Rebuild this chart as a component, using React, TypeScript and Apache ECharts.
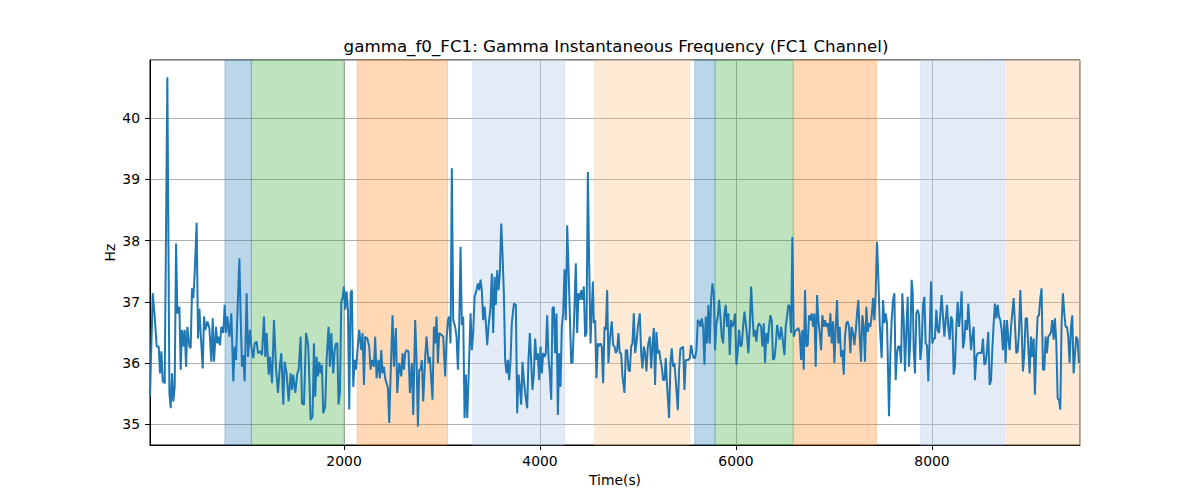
import React, { useEffect, useRef } from "react";
import * as echarts from "echarts";

// ---- data (time in s, instantaneous frequency in Hz) ----
const TRACE_A: [number, number][] = [
  [20, 35.45], [48, 37.14], [68, 36.76], [88, 36.27], [109, 36.27], [122, 35.83], [136, 36.19], [150, 35.70],
  [170, 35.67], [197, 40.67], [218, 35.51], [231, 35.26], [245, 35.83], [258, 35.37], [272, 35.61], [286, 37.95],
  [299, 36.81], [320, 36.92], [333, 35.89], [347, 36.54], [360, 36.27], [374, 36.54], [388, 35.94], [401, 36.59],
  [422, 36.27], [435, 36.24], [449, 37.22], [462, 37.06], [476, 37.46], [496, 38.29], [510, 36.40], [524, 36.89],
  [537, 36.49], [558, 35.91], [571, 36.76], [585, 36.54], [605, 36.68], [626, 36.57], [646, 36.02], [660, 36.73],
  [673, 36.02], [694, 36.59], [707, 36.32], [721, 36.43], [734, 36.29], [748, 36.59], [768, 36.49], [782, 36.95],
  [796, 36.49], [809, 36.76], [830, 36.43], [850, 36.81], [870, 35.70], [884, 36.27], [898, 36.05], [911, 36.76],
  [932, 37.71], [945, 36.76], [959, 35.94], [972, 36.13], [986, 35.70], [1006, 37.14], [1020, 36.10], [1040, 36.54],
  [1054, 36.27], [1074, 36.08], [1088, 36.32], [1108, 36.35], [1122, 36.16], [1142, 36.19], [1163, 36.13], [1183, 36.76],
  [1197, 36.10], [1210, 36.49], [1231, 35.81], [1244, 36.10], [1265, 35.67], [1285, 36.70], [1306, 35.91], [1326, 35.51],
  [1346, 35.97], [1360, 36.16], [1380, 35.32], [1394, 36.02], [1414, 35.83], [1435, 35.37], [1455, 35.83], [1469, 35.56],
  [1482, 35.81], [1503, 35.51], [1523, 35.83], [1537, 35.89], [1557, 36.43], [1571, 35.34], [1591, 35.32], [1612, 36.49],
  [1632, 36.32],
];

const TRACE_B: [number, number][] = [
  [1638, 36.16], [1659, 35.07], [1679, 35.13], [1693, 36.32], [1706, 35.45], [1720, 36.10], [1734, 35.78], [1747, 36.02],
  [1761, 35.83], [1774, 35.97], [1788, 35.18], [1808, 35.29], [1822, 36.05], [1842, 36.59], [1856, 35.94], [1870, 36.49],
  [1890, 35.83], [1904, 36.21], [1917, 36.32], [1931, 36.32], [1944, 35.32], [1958, 35.51], [1972, 37.00], [1985, 37.06],
  [1999, 37.25], [2012, 36.87], [2026, 37.17], [2040, 36.87], [2053, 35.24], [2067, 37.14], [2080, 37.19], [2094, 35.61],
  [2108, 36.05], [2121, 35.89], [2135, 36.16], [2155, 36.54], [2176, 36.21], [2189, 36.49], [2203, 35.64], [2216, 36.43],
  [2237, 36.40], [2257, 36.27], [2271, 35.89], [2284, 36.05], [2305, 35.94], [2318, 36.43], [2332, 35.75], [2352, 36.05],
  [2366, 35.75], [2380, 36.21], [2393, 35.83], [2407, 35.94], [2420, 35.75], [2434, 35.67], [2448, 35.59], [2461, 35.02],
  [2475, 35.78], [2495, 36.78], [2509, 35.94], [2529, 36.57], [2543, 35.51], [2563, 36.00], [2584, 35.78], [2597, 36.16],
  [2611, 35.89], [2624, 36.16], [2638, 36.21], [2658, 36.19], [2672, 35.51], [2692, 36.00], [2706, 35.15], [2726, 36.70],
  [2740, 36.05], [2754, 34.96], [2767, 35.89], [2781, 35.89], [2794, 36.05], [2808, 35.37], [2828, 36.10], [2842, 36.43],
  [2862, 36.00], [2876, 36.10], [2890, 35.72], [2903, 35.40], [2917, 36.59], [2930, 36.32], [2944, 36.76], [2958, 36.00],
  [2971, 36.49], [2992, 36.46], [3012, 36.43], [3032, 35.78], [3046, 36.38], [3060, 36.70], [3073, 36.76], [3087, 36.32],
  [3100, 39.18], [3114, 36.70], [3134, 36.59], [3148, 36.43], [3162, 35.89],
];

const TRACE_C: [number, number][] = [
  [3175, 36.59], [3189, 37.90], [3202, 36.62], [3216, 36.76], [3230, 35.10], [3243, 35.81], [3257, 35.10], [3270, 35.72],
  [3291, 36.81], [3304, 36.21], [3318, 36.49], [3332, 37.08], [3352, 37.19], [3366, 37.30], [3379, 37.19], [3393, 37.36],
  [3406, 37.19], [3420, 36.70], [3434, 36.92], [3447, 36.65], [3461, 36.29], [3474, 36.59], [3495, 36.92], [3508, 37.46],
  [3522, 36.49], [3536, 37.41], [3549, 36.95], [3563, 37.52], [3576, 37.19], [3590, 37.46], [3604, 38.28], [3617, 37.79],
  [3631, 37.14], [3644, 36.05], [3658, 35.83], [3672, 36.05], [3685, 35.72], [3699, 36.05], [3712, 36.65], [3733, 36.97],
  [3753, 36.95], [3767, 35.18], [3780, 35.81], [3794, 35.61], [3808, 35.32], [3821, 36.02], [3835, 35.72], [3848, 35.51],
  [3869, 35.26], [3882, 36.05], [3896, 36.49], [3910, 36.00], [3923, 35.56], [3937, 35.83], [3950, 36.40], [3964, 36.05],
  [3978, 36.16], [3991, 35.72], [4005, 36.27], [4018, 35.83], [4032, 36.16], [4046, 36.10], [4059, 36.16], [4073, 36.78],
  [4086, 36.10], [4100, 35.83], [4114, 35.40], [4127, 36.89], [4141, 36.92], [4154, 36.16], [4168, 36.81], [4182, 35.15],
  [4195, 36.16], [4209, 35.61], [4222, 36.59], [4236, 36.81], [4250, 37.53], [4263, 36.70], [4277, 38.25], [4290, 37.57],
  [4304, 36.81], [4318, 36.00], [4331, 36.00], [4345, 36.59], [4365, 37.63], [4379, 36.49], [4392, 37.14], [4406, 37.03],
  [4420, 37.19], [4433, 37.03], [4447, 37.25], [4460, 36.43], [4474, 36.49], [4488, 39.12], [4501, 37.68], [4515, 36.32],
  [4528, 36.87], [4539, 37.33], [4549, 36.65], [4562, 36.70], [4576, 35.75], [4590, 36.32], [4603, 36.27], [4617, 36.32],
  [4630, 36.27], [4644, 35.67], [4658, 36.59], [4671, 36.54], [4685, 37.19], [4698, 36.00],
];

const TRACE_D: [number, number][] = [
  [4712, 36.38], [4732, 36.68], [4746, 36.29], [4760, 36.27], [4773, 36.16], [4787, 36.21], [4800, 36.49], [4814, 36.16],
  [4828, 36.16], [4841, 35.78], [4862, 35.51], [4875, 36.21], [4889, 36.21], [4902, 35.89], [4916, 35.86], [4930, 36.27],
  [4943, 36.32], [4957, 36.81], [4970, 36.16], [4984, 36.32], [4998, 36.59], [5018, 36.81], [5032, 36.16], [5045, 35.91],
  [5059, 36.27], [5072, 36.16], [5086, 35.86], [5100, 36.27], [5120, 36.43], [5134, 35.91], [5147, 36.27], [5161, 36.57],
  [5174, 35.64], [5188, 36.51], [5202, 36.16], [5215, 36.21], [5229, 36.05], [5242, 35.94], [5256, 35.72], [5270, 35.72],
  [5283, 36.08], [5297, 35.61], [5317, 35.10], [5331, 36.00], [5344, 36.24], [5358, 35.94], [5372, 36.00], [5392, 35.56],
  [5406, 35.23], [5419, 35.89], [5433, 36.24], [5446, 36.24], [5460, 36.27], [5474, 35.56], [5487, 36.05], [5501, 36.05],
  [5514, 36.05], [5528, 36.08], [5542, 36.29], [5555, 36.16], [5569, 36.08], [5582, 36.08], [5596, 36.21], [5610, 36.70],
  [5623, 36.68], [5637, 36.59], [5650, 36.73], [5664, 36.59], [5678, 35.97], [5691, 36.76], [5705, 36.32], [5718, 36.95],
  [5732, 36.32], [5746, 37.03], [5759, 37.30], [5773, 37.14], [5786, 36.21], [5800, 36.65], [5814, 36.76], [5827, 37.03],
  [5841, 36.76], [5854, 36.43], [5868, 36.32], [5882, 36.81], [5895, 36.95], [5909, 36.59], [5922, 36.81], [5936, 36.13],
  [5950, 36.70], [5963, 36.59], [5977, 36.65], [5990, 36.81], [6004, 35.97], [6018, 36.21], [6031, 36.54], [6045, 36.27],
  [6058, 36.29], [6072, 36.59], [6086, 36.84], [6099, 36.65], [6113, 36.43], [6126, 36.16], [6140, 36.59], [6154, 37.25],
  [6167, 36.81], [6181, 36.43], [6194, 36.54], [6208, 36.35], [6222, 36.59], [6235, 36.65],
];

const TRACE_E: [number, number][] = [
  [6256, 36.59], [6269, 36.27], [6283, 36.65], [6296, 36.00], [6310, 36.49], [6324, 36.32], [6337, 36.59], [6351, 36.78],
  [6364, 36.70], [6378, 36.05], [6392, 36.08], [6405, 36.27], [6419, 36.62], [6432, 36.49], [6446, 36.38], [6460, 36.59],
  [6473, 36.43], [6494, 36.13], [6507, 36.59], [6521, 36.76], [6534, 36.95], [6548, 36.92], [6562, 36.49], [6575, 38.06],
  [6589, 36.43], [6602, 36.51], [6616, 36.54], [6636, 36.57], [6650, 36.49], [6664, 36.05], [6677, 36.54], [6691, 35.89],
  [6704, 37.19], [6718, 36.27], [6732, 36.29], [6745, 36.78], [6759, 36.70], [6772, 36.81], [6786, 36.59], [6800, 36.81],
  [6813, 35.94], [6827, 37.11], [6840, 36.70], [6854, 36.49], [6868, 36.21], [6881, 36.78], [6895, 36.59], [6908, 36.70],
  [6922, 36.59], [6936, 36.65], [6949, 36.43], [6963, 36.81], [6976, 36.32], [6990, 36.68], [7004, 36.00], [7017, 36.57],
  [7031, 37.03], [7044, 36.32], [7058, 36.59], [7072, 36.10], [7085, 36.21], [7099, 35.81], [7112, 36.43], [7126, 36.65],
  [7140, 36.68], [7153, 36.59], [7167, 36.16], [7180, 36.59], [7194, 36.49], [7208, 36.29], [7221, 36.51], [7235, 36.81],
  [7248, 37.03], [7262, 36.43], [7276, 36.02], [7289, 36.78], [7303, 36.59], [7316, 36.02], [7330, 36.92], [7344, 36.51],
  [7357, 36.65], [7371, 36.59], [7384, 36.76], [7398, 37.06], [7412, 36.70], [7425, 37.14], [7439, 37.98], [7452, 37.41],
  [7466, 36.65], [7486, 36.08], [7500, 37.03], [7514, 36.65], [7527, 36.81], [7541, 36.65], [7561, 35.13], [7575, 36.16],
  [7588, 36.70], [7602, 37.03], [7616, 37.14], [7629, 35.72], [7643, 36.16], [7656, 36.27], [7670, 36.27], [7684, 36.00],
  [7697, 37.14], [7711, 36.70], [7724, 35.86], [7738, 36.54], [7752, 37.08], [7765, 35.94],
];

const TRACE_F: [number, number][] = [
  [7779, 36.38], [7792, 37.36], [7803, 37.14], [7813, 36.21], [7826, 35.83], [7840, 36.81], [7854, 36.87], [7867, 36.78],
  [7881, 36.05], [7894, 36.27], [7908, 36.95], [7922, 37.08], [7935, 36.32], [7949, 36.29], [7962, 35.70], [7976, 36.43],
  [7990, 37.33], [8003, 36.32], [8017, 36.40], [8030, 36.40], [8044, 36.87], [8058, 36.54], [8071, 36.49], [8085, 36.81],
  [8098, 37.11], [8112, 36.76], [8126, 36.43], [8139, 36.70], [8153, 36.95], [8166, 36.59], [8180, 36.38], [8194, 36.76],
  [8207, 36.70], [8221, 35.81], [8234, 35.94], [8248, 36.59], [8262, 37.00], [8275, 36.59], [8289, 36.81], [8302, 37.17],
  [8316, 36.24], [8330, 36.38], [8343, 36.70], [8357, 36.54], [8370, 36.97], [8384, 36.59], [8398, 36.21], [8411, 36.43],
  [8425, 36.59], [8438, 35.72], [8452, 36.10], [8466, 36.16], [8479, 36.16], [8493, 36.17], [8506, 36.16], [8520, 36.40],
  [8534, 35.97], [8547, 36.00], [8561, 36.21], [8574, 36.51], [8588, 35.64], [8602, 35.72], [8615, 36.21], [8629, 36.65],
  [8642, 36.97], [8656, 36.73], [8670, 36.95], [8683, 36.76], [8697, 36.70], [8710, 36.54], [8724, 36.21], [8738, 36.70],
  [8751, 36.00], [8765, 36.70], [8778, 36.40], [8792, 36.21], [8806, 36.59], [8819, 36.81], [8833, 37.06], [8846, 36.65],
  [8860, 36.16], [8874, 36.19], [8887, 36.49], [8901, 37.19], [8914, 36.59], [8928, 35.86], [8942, 36.16], [8955, 36.73],
  [8969, 36.73], [8982, 36.27], [8996, 35.83], [9010, 36.43], [9023, 36.10], [9037, 36.40], [9050, 35.48], [9064, 36.27],
  [9078, 36.76], [9091, 36.78], [9105, 37.06], [9118, 37.22], [9132, 35.89], [9146, 35.89], [9159, 36.43], [9173, 36.16],
  [9186, 36.43], [9200, 36.46], [9214, 36.51], [9227, 36.70], [9241, 36.38], [9254, 36.73], [9268, 36.35], [9282, 35.42],
  [9295, 35.40], [9309, 35.24], [9322, 36.65], [9336, 37.14], [9350, 36.81], [9363, 36.59], [9377, 36.59], [9390, 36.43],
  [9404, 36.00], [9418, 36.59], [9431, 36.78], [9445, 35.83], [9458, 36.13], [9472, 36.43], [9486, 36.38], [9499, 36.00],
];

// Shaded epochs: start, end, kind
const SPAN_STARTS = [785, 1055, 2135, 3315, 4559, 5579, 5786, 6585, 7884, 8761];
const SPAN_ENDS = [1055, 2000, 3056, 4250, 5528, 5786, 6583, 7432, 8744, 9510];
const SPAN_KINDS = ["blue", "green", "orange", "lightblue", "lightorange", "blue", "green", "orange", "lightblue", "lightorange"];

const X_MIN = 20;
const X_MAX = 9510;
const Y_MIN = 34.66;
const Y_MAX = 40.95;

const TITLE = "gamma_f0_FC1: Gamma Instantaneous Frequency (FC1 Channel)";
const X_NAME = "Time(s)";
const Y_NAME = "Hz";

const KIND_COLORS: Record<string, string> = {
  blue: "rgba(31,119,180,0.3)",
  green: "rgba(44,160,44,0.3)",
  orange: "rgba(255,127,14,0.3)",
  lightblue: "rgba(174,199,232,0.35)",
  lightorange: "rgba(255,187,120,0.3)",
};

export default function App() {
  const ref = useRef<HTMLDivElement>(null);

  useEffect(() => {
    if (!ref.current) return;
    const chart = echarts.init(ref.current, undefined, { renderer: "svg" });
    const data = [...TRACE_A, ...TRACE_B, ...TRACE_C, ...TRACE_D, ...TRACE_E, ...TRACE_F];
    const font = "DejaVu Sans";

    const areas = SPAN_STARTS.map((s, i) => [
      {
        xAxis: s,
        itemStyle: { color: KIND_COLORS[SPAN_KINDS[i]], borderColor: KIND_COLORS[SPAN_KINDS[i]], borderWidth: 1 },
      },
      { xAxis: SPAN_ENDS[i] },
    ]);

    chart.setOption({
      animation: false,
      backgroundColor: "#ffffff",
      textStyle: { fontFamily: font },
      title: {
        text: TITLE,
        left: 611,
        top: 32,
        textAlign: "center",
        textStyle: { fontFamily: font, fontSize: 16.7, fontWeight: "normal", color: "#000" },
      },
      grid: {
        left: 150,
        right: 120,
        top: 60,
        bottom: 55,
        show: true,
        borderColor: "#000",
        borderWidth: 1,
        backgroundColor: "transparent",
      },
      xAxis: {
        type: "value",
        min: X_MIN,
        max: X_MAX,
        splitNumber: 5,
        name: X_NAME,
        nameLocation: "middle",
        nameGap: 28,
        nameTextStyle: { fontFamily: font, fontSize: 13.9, color: "#000" },
        axisLine: { show: true, onZero: false, lineStyle: { color: "#000", width: 1 } },
        axisTick: { show: true, length: 5, lineStyle: { color: "#000" } },
        axisLabel: {
          margin: 9,
          fontFamily: font,
          fontSize: 13.9,
          color: "#000",
          showMinLabel: false,
          showMaxLabel: false,
          formatter: (v: number) => (Math.abs(v % 2000) < 1e-6 ? String(v) : ""),
        },
        splitLine: { show: true, lineStyle: { color: "#b0b0b0", width: 1 } },
      },
      yAxis: {
        type: "value",
        min: Y_MIN,
        max: Y_MAX,
        splitNumber: 5,
        name: Y_NAME,
        nameLocation: "middle",
        nameGap: 33,
        nameMoveOverlap: false,
        nameTextStyle: { fontFamily: font, fontSize: 13.9, color: "#000" },
        axisLine: { show: true, onZero: false, lineStyle: { color: "#000", width: 1 } },
        axisTick: { show: true, length: 5, lineStyle: { color: "#000" } },
        axisLabel: {
          margin: 10,
          fontFamily: font,
          fontSize: 13.9,
          color: "#000",
          showMinLabel: false,
          showMaxLabel: false,
          formatter: (v: number) => (Math.abs(v - Math.round(v)) < 1e-6 ? String(Math.round(v)) : ""),
        },
        splitLine: { show: true, lineStyle: { color: "#b0b0b0", width: 1 } },
      },
      series: [
        {
          type: "line",
          name: "epochs",
          data: [],
          z: 1,
          silent: true,
          markArea: { silent: true, data: areas },
        },
        {
          type: "line",
          name: "gamma_f0_FC1",
          data,
          z: 3,
          showSymbol: false,
          symbol: "none",
          lineStyle: { color: "#1f77b4", width: 2 },
          itemStyle: { color: "#1f77b4" },
        },
      ],
    });

    return () => chart.dispose();
  }, []);

  return (
    <div
      ref={ref}
      style={{ position: "absolute", left: 0, top: 0, width: 1200, height: 500 }}
    />
  );
}
